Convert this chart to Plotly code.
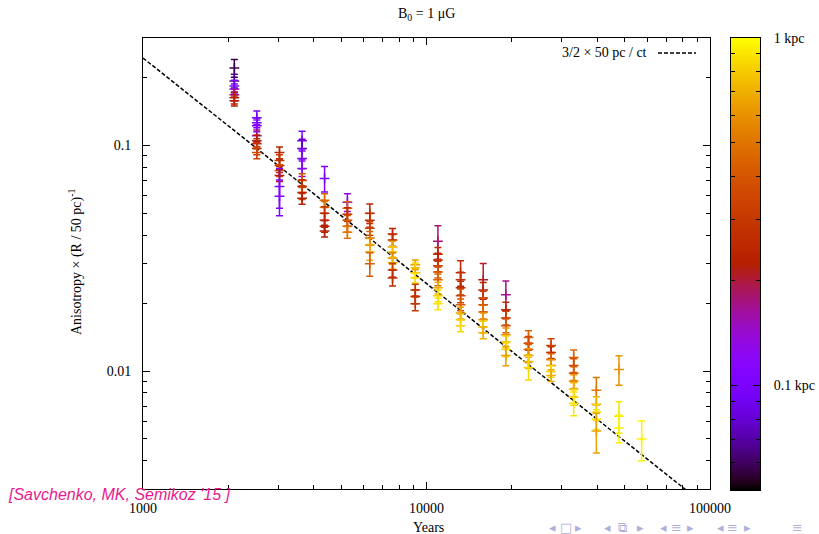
import numpy as np
import plotly.graph_objects as go

# Observation epochs (years since injection)
epochs = [2100, 2520, 3030, 3640, 4370, 5260, 6310, 7590, 9130, 10970,
          13190, 15850, 19050, 22900, 27500, 33050, 39730, 47750, 57400]

# One entry per measured point: epoch index, anisotropy x (R/50pc)^-1,
# relative 1-sigma error, source distance R [kpc]
pt_epoch = ([0] * 7 + [1] * 8 + [2] * 7 + [3] * 8 + [4] * 7 + [5] * 6 + [6] * 7 +
            [7] * 8 + [8] * 7 + [9] * 9 + [10] * 8 + [11] * 8 + [12] * 8 +
            [13] * 6 + [14] * 6 + [15] * 7 + [16] * 5 + [17] * 3 + [18] * 1)

pt_aniso = [
    0.2208, 0.1935, 0.1839, 0.1784, 0.1679, 0.1628, 0.1579,
    0.1329, 0.1263, 0.1225, 0.1107, 0.1052, 0.1020, 0.0970, 0.0931,
    0.0931, 0.0859, 0.0816, 0.0776, 0.0737, 0.0659, 0.0596,
    0.1052, 0.0970, 0.0877, 0.0792, 0.0701, 0.0659, 0.0620, 0.0584,
    0.0715, 0.0572, 0.0533, 0.0501, 0.0467, 0.0439, 0.0418,
    0.0561, 0.0527, 0.0496, 0.0467, 0.0439, 0.0413,
    0.0501, 0.0467, 0.0430, 0.0389, 0.0362, 0.0337, 0.0299,
    0.0405, 0.0381, 0.0355, 0.0337, 0.0317, 0.0302, 0.0281, 0.0259,
    0.0296, 0.0287, 0.0273, 0.0259, 0.0229, 0.0214, 0.0199,
    0.0377, 0.0330, 0.0311, 0.0293, 0.0275, 0.0254, 0.0234, 0.0216, 0.0199,
    0.0273, 0.0254, 0.0234, 0.0216, 0.0197, 0.0181, 0.0169, 0.0159,
    0.0254, 0.0229, 0.0211, 0.0197, 0.0183, 0.0169, 0.0157, 0.0148,
    0.0218, 0.0187, 0.0172, 0.0159, 0.0145, 0.0135, 0.01246, 0.01173,
    0.0141, 0.0133, 0.01246, 0.01173, 0.01104, 0.01038,
    0.0130, 0.01209, 0.01126, 0.01060, 0.00997, 0.00957,
    0.01149, 0.01060, 0.00977, 0.00901, 0.00830, 0.00766, 0.00721,
    0.00822, 0.00713, 0.00657, 0.00612, 0.00542,
    0.01017, 0.00631, 0.00559,
    0.00500,
]

pt_relerr = [
    0.09, 0.07, 0.06, 0.05, 0.06, 0.06, 0.05,
    0.07, 0.05, 0.06, 0.06, 0.06, 0.05, 0.06, 0.06,
    0.06, 0.06, 0.07, 0.06, 0.06, 0.20, 0.18,
    0.10, 0.10, 0.10, 0.08, 0.07, 0.07, 0.07, 0.06,
    0.13, 0.07, 0.06, 0.07, 0.07, 0.06, 0.06,
    0.09, 0.07, 0.07, 0.06, 0.06, 0.06,
    0.10, 0.07, 0.07, 0.07, 0.07, 0.08, 0.12,
    0.06, 0.06, 0.06, 0.06, 0.06, 0.06, 0.07, 0.08,
    0.05, 0.05, 0.05, 0.05, 0.06, 0.07, 0.07,
    0.17, 0.07, 0.07, 0.06, 0.06, 0.06, 0.06, 0.06, 0.06,
    0.13, 0.08, 0.07, 0.07, 0.06, 0.06, 0.06, 0.06,
    0.18, 0.08, 0.07, 0.07, 0.07, 0.07, 0.06, 0.06,
    0.15, 0.08, 0.07, 0.07, 0.07, 0.06, 0.07, 0.10,
    0.07, 0.07, 0.07, 0.07, 0.07, 0.12,
    0.07, 0.06, 0.06, 0.06, 0.06, 0.06,
    0.08, 0.07, 0.07, 0.07, 0.07, 0.08, 0.12,
    0.14, 0.08, 0.08, 0.10, 0.20,
    0.15, 0.16, 0.14,
    0.20,
]

pt_dist = [
    0.058, 0.068, 0.10, 0.11, 0.17, 0.22, 0.24,
    0.10, 0.095, 0.11, 0.17, 0.22, 0.25, 0.30, 0.35,
    0.24, 0.30, 0.26, 0.38, 0.22, 0.10, 0.105,
    0.10, 0.075, 0.11, 0.12, 0.40, 0.26, 0.32, 0.23,
    0.10, 0.45, 0.50, 0.30, 0.25, 0.24, 0.22,
    0.13, 0.45, 0.26, 0.33, 0.42, 0.50,
    0.25, 0.28, 0.32, 0.45, 0.60, 0.70, 0.42,
    0.24, 0.28, 0.65, 0.80, 0.55, 0.75, 0.33, 0.26,
    0.65, 0.85, 0.70, 0.90, 0.30, 0.27, 0.30,
    0.18, 0.26, 0.24, 0.30, 0.40, 0.45, 0.70, 0.85, 0.90,
    0.25, 0.27, 0.26, 0.34, 0.42, 0.65, 0.75, 0.85,
    0.21, 0.24, 0.30, 0.40, 0.45, 0.60, 0.80, 0.70,
    0.17, 0.25, 0.32, 0.40, 0.60, 0.80, 0.85, 0.65,
    0.45, 0.35, 0.42, 0.60, 0.72, 0.85,
    0.33, 0.28, 0.45, 0.60, 0.85, 0.70,
    0.45, 0.36, 0.42, 0.60, 0.70, 0.85, 0.90,
    0.50, 0.72, 0.85, 0.90, 0.65,
    0.60, 0.90, 0.95,
    0.95,
]

# Colour scale limits for R [kpc] (logarithmic)
R_MIN, R_MAX = 0.05, 1.0

# Reference scaling 3/2 * 50 pc / (c t);  c * 1 yr = 0.306601 pc
LY_PC = 0.306601
line_t = [1000, 100000]

SERIF = "Liberation Serif"


def palette(p):
    """gnuplot default pm3d palette (rgbformulae 7,5,15)."""
    p = min(max(p, 0.0), 1.0)
    r = np.sqrt(p)
    g = p ** 3
    b = min(max(np.sin(2 * np.pi * p), 0.0), 1.0)
    return "rgb(%d,%d,%d)" % (round(255 * r), round(255 * g), round(255 * b))


def frac(r_kpc):
    return (np.log10(r_kpc) - np.log10(R_MIN)) / (np.log10(R_MAX) - np.log10(R_MIN))


fig = go.Figure()

# model line
line_y = [1.5 * 50.0 / (LY_PC * t) for t in line_t]
fig.add_trace(go.Scatter(
    x=line_t, y=line_y, mode="lines",
    line=dict(color="black", width=1.5, dash="4px,2px"),
    showlegend=False, hoverinfo="skip", xaxis="x", yaxis="y"))

# data points with error bars, coloured by distance
for k, v, e, r in zip(pt_epoch, pt_aniso, pt_relerr, pt_dist):
    c = palette(frac(r))
    fig.add_trace(go.Scatter(
        x=[epochs[k]], y=[v], mode="markers",
        marker=dict(symbol="cross-thin", size=7, color=c, line=dict(width=1.5, color=c)),
        error_y=dict(type="data", array=[v * e], color=c, thickness=1.5, width=3.5),
        showlegend=False, hoverinfo="skip", xaxis="x", yaxis="y"))

# colour bar drawn as a heatmap on its own axes
nbin = 256
cb_edges = np.linspace(np.log10(R_MIN), np.log10(R_MAX), nbin + 1)
cb_z = [[(i + 0.5) / nbin] for i in range(nbin)]
cscale = [[s, palette(s)] for s in np.linspace(0, 1, 65)]
fig.add_trace(go.Heatmap(
    x=[0, 1], y=cb_edges, z=cb_z, colorscale=cscale, zmin=0, zmax=1,
    showscale=False, hoverinfo="skip", xaxis="x2", yaxis="y2"))

W, H = 819, 534
px = lambda x: x / W
py = lambda y: 1 - y / H

x_minor = [a * 10 ** d for d in (3, 4) for a in range(2, 10)]
y_minor = [a * 10 ** d for d in (-3, -2) for a in range(3 if d == -3 else 2, 10)] + [0.2, 0.3]
cb_minor = [np.log10(a / 100) for a in range(6, 10)] + [np.log10(a / 10) for a in range(2, 10)]

axis_common = dict(
    showline=True, linecolor="black", linewidth=1, mirror="ticks",
    ticks="inside", ticklen=7, tickwidth=1, tickcolor="black",
    showgrid=False, zeroline=False, automargin=False,
    tickfont=dict(family=SERIF, size=14, color="black"),
)

fig.update_layout(
    width=W, height=H,
    margin=dict(l=0, r=0, t=0, b=0, autoexpand=False),
    paper_bgcolor="white", plot_bgcolor="white",
    font=dict(family=SERIF, size=14, color="black"),
    xaxis=dict(
        type="log", range=[3, 5], domain=[px(143), px(710)], anchor="y",
        tickmode="array", tickvals=[1000, 10000, 100000],
        ticktext=["1000", "10000", "100000"], ticklabelstandoff=6,
        minor=dict(ticks="inside", ticklen=4, tickwidth=1, tickcolor="black",
                   tickmode="array", tickvals=x_minor),
        **axis_common),
    yaxis=dict(
        type="log", range=[np.log10(0.003), np.log10(0.3)],
        domain=[py(489), py(38)], anchor="x",
        tickmode="array", tickvals=[0.01, 0.1], ticktext=["0.01", "0.1"],
        ticklabelstandoff=8,
        minor=dict(ticks="inside", ticklen=4, tickwidth=1, tickcolor="black",
                   tickmode="array", tickvals=y_minor),
        **axis_common),
    xaxis2=dict(
        range=[0, 1], domain=[px(731), px(760)], anchor="y2",
        showline=True, linecolor="black", linewidth=1, mirror=True,
        showticklabels=False, ticks="", showgrid=False, zeroline=False,
        automargin=False),
    yaxis2=dict(
        range=[np.log10(R_MIN), np.log10(R_MAX)], domain=[py(490), py(38)],
        anchor="x2", side="right",
        tickmode="array", tickvals=[-1, 0], ticktext=["0.1 kpc", "1 kpc"],
        ticklabelstandoff=10,
        minor=dict(ticks="inside", ticklen=4, tickwidth=1, tickcolor="black",
                   tickmode="array", tickvals=cb_minor),
        **axis_common),
)

annotations = [
    dict(text="B<sub>0</sub> = 1 μG", x=px(426), y=py(15), font=dict(size=14)),
    dict(text="Years", x=px(428), y=py(527), font=dict(size=14)),
    dict(text="Anisotropy × (R / 50 pc)<sup>-1</sup>", x=px(75), y=py(262),
         textangle=-90, font=dict(size=14)),
    dict(text="3/2 × 50 pc / ct", x=px(649), y=py(52), xanchor="right",
         font=dict(size=14)),
    dict(text="<i>[Savchenko, MK, Semikoz '15 ]</i>", x=px(6), y=py(494),
         xanchor="left", font=dict(family="Liberation Sans", size=16, color="#e8198c")),
]

nav = [("◂", 552), ("□", 566), ("▸", 578), ("◂", 607), ("⧉", 622), ("▸", 640),
       ("◂", 663), ("≡", 676), ("▸", 690), ("◂", 720), ("≡", 732), ("▸", 747),
       ("≡", 797)]
for g, xx in nav:
    annotations.append(dict(text=g, x=px(xx), y=py(527),
                            font=dict(family="DejaVu Sans", size=13, color="#aeb0d8")))

for a in annotations:
    a.setdefault("xanchor", "center")
    a.update(xref="paper", yref="paper", showarrow=False, yanchor="middle")
fig.update_layout(annotations=annotations)

# legend sample
fig.add_shape(type="line", xref="paper", yref="paper",
              x0=px(658), x1=px(696), y0=py(53), y1=py(53),
              line=dict(color="black", width=1.5, dash="4px,2px"))

fig.write_html("out.html")
